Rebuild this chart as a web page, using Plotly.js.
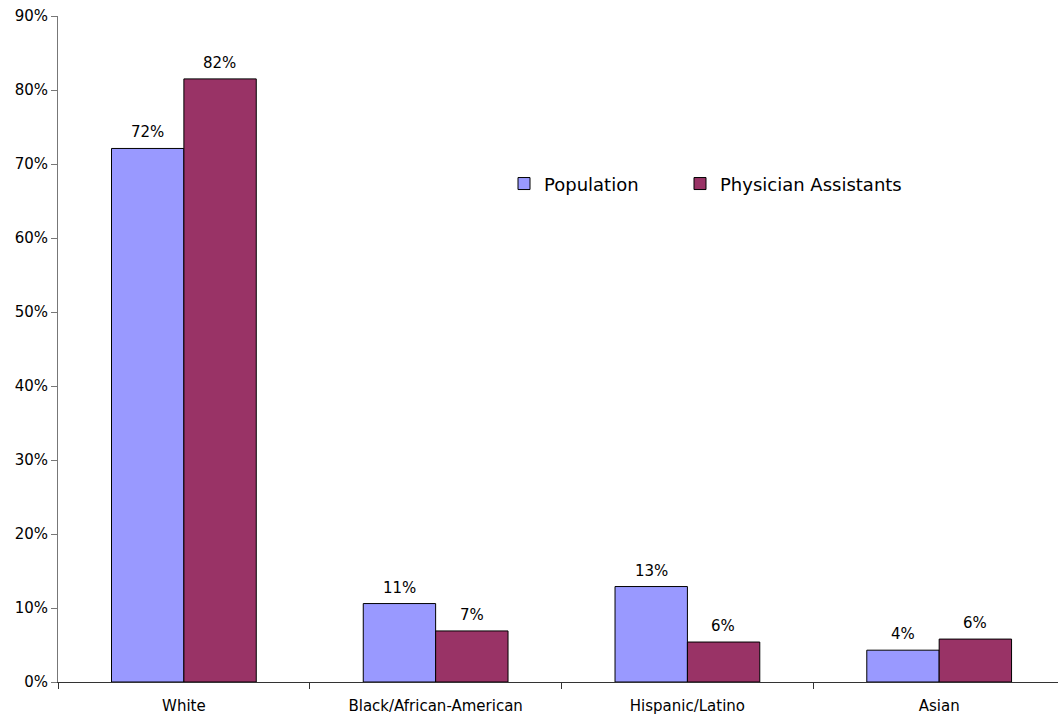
<!DOCTYPE html>
<html>
<head>
<meta charset="utf-8">
<script src="https://cdn.plot.ly/plotly-3.0.1.min.js"></script>
<style>html,body{margin:0;padding:0;background:#fff;}#chart{width:1058px;height:715px;}</style>
</head>
<body>
<div id="chart"></div>
<script>
const categories = ["White", "Black/African-American", "Hispanic/Latino", "Asian"];
const populationValues = [72.1, 10.6, 12.9, 4.3];
const paValues = [81.5, 6.9, 5.4, 5.8];
const populationLabels = ["72%", "11%", "13%", "4%"];
const paLabels = ["82%", "7%", "6%", "6%"];
const yTickVals = [0, 10, 20, 30, 40, 50, 60, 70, 80, 90];
const yTickText = ["0%", "10%", "20%", "30%", "40%", "50%", "60%", "70%", "80%", "90%"];

const font = "DejaVu Sans, Verdana, sans-serif";

const traces = [
  {
    type: "bar", name: "Population", x: categories, y: populationValues,
    marker: {color: "#9999FF", line: {color: "#000", width: 1}},
    legend: "legend", hoverinfo: "skip"
  },
  {
    type: "bar", name: "Physician Assistants", x: categories, y: paValues,
    marker: {color: "#993366", line: {color: "#000", width: 1}},
    legend: "legend2", hoverinfo: "skip"
  }
];

// value labels above each bar, positioned through the axes
const annotations = [];
categories.forEach((c, i) => {
  annotations.push({x: c, y: populationValues[i], xref: "x", yref: "y", text: populationLabels[i],
    showarrow: false, xanchor: "center", yanchor: "bottom", xshift: -36, yshift: 5,
    font: {family: font, size: 15, color: "#000"}});
  annotations.push({x: c, y: paValues[i], xref: "x", yref: "y", text: paLabels[i],
    showarrow: false, xanchor: "center", yanchor: "bottom", xshift: 36, yshift: 5,
    font: {family: font, size: 15, color: "#000"}});
});

const legendBase = {orientation: "h", y: 0.748, xanchor: "left", yanchor: "middle",
  font: {family: font, size: 18, color: "#000"}, bgcolor: "rgba(0,0,0,0)"};

const layout = {
  width: 1058, height: 715,
  margin: {l: 58, r: 0, t: 16, b: 33},
  paper_bgcolor: "#fff", plot_bgcolor: "#fff",
  font: {family: font, size: 14, color: "#000"},
  barmode: "group", bargap: 0.425, bargroupgap: 0,
  showlegend: true,
  legend: Object.assign({}, legendBase, {x: 0.446}),
  legend2: Object.assign({}, legendBase, {x: 0.622}),
  annotations: annotations,
  xaxis: {
    type: "category", range: [-0.5, 3.472], automargin: false,
    showline: true, linecolor: "#333", linewidth: 1,
    ticks: "outside", tickson: "boundaries", ticklen: 6, tickcolor: "#333",
    ticklabelstandoff: 10,
    showgrid: false, zeroline: false,
    tickfont: {family: font, size: 15, color: "#000"}
  },
  yaxis: {
    range: [0, 90], tickvals: yTickVals, ticktext: yTickText, automargin: false,
    showline: true, linecolor: "#777", linewidth: 1,
    ticks: "outside", ticklen: 6, tickcolor: "#777",
    showgrid: false, zeroline: false,
    tickfont: {family: font, size: 15, color: "#000"}
  }
};

Plotly.newPlot("chart", traces, layout, {displayModeBar: false, staticPlot: true});
</script>
</body>
</html>
